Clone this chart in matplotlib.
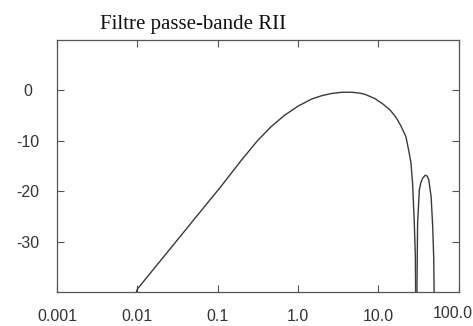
import matplotlib
matplotlib.use("Agg")
import matplotlib.pyplot as plt
import matplotlib.transforms as mtransforms
from matplotlib.ticker import FixedLocator, NullLocator

# frequency (log axis) and gain in dB
freq_main = [0.0095, 0.01, 0.02, 0.0344, 0.05, 0.109, 0.2, 0.315, 0.46, 0.68,
             1.0, 1.47, 2.0, 2.6, 3.5, 4.7, 6.0, 6.9, 9.0, 11.2, 14.0, 16.5,
             19.0, 22.0, 24.2, 25.4, 26.6, 27.9, 28.8, 29.2]
gain_main = [-40.5, -39.4, -33.5, -28.9, -25.7, -19.1, -13.7, -9.9, -7.2, -4.9,
             -3.1, -1.7, -1.0, -0.6, -0.35, -0.35, -0.55, -0.8, -1.6, -2.6, -3.9, -5.3,
             -7.0, -9.2, -12.5, -14.4, -18.5, -26.0, -33.0, -45.0]

freq_lobe = [29.9, 30.7, 32.3, 33.8, 35.5, 38.3, 40.5, 42.2, 45.2, 47.3, 48.7, 49.7]
gain_lobe = [-45.0, -26.3, -19.7, -18.2, -17.4, -16.8, -17.0, -17.7, -21.0, -26.9, -33.0, -45.0]

xticks = [0.001, 0.01, 0.1, 1.0, 10.0, 100.0]
xtick_labels = ["0.001", "0.01", "0.1", "1.0", "10.0", "100.0"]
yticks = [0, -10, -20, -30]
ytick_labels = ["0", "-10", "-20", "-30"]

line_col = "#3a3a3a"

fig = plt.figure(figsize=(4.73, 3.26), dpi=100)
ax = fig.add_axes([0.1205, 0.104, 0.8495, 0.773])

ax.plot(freq_main, gain_main, color=line_col, linewidth=1.0)
ax.plot(freq_lobe, gain_lobe, color=line_col, linewidth=1.0)

ax.set_xscale("log")
ax.set_xlim(0.001, 100.0)
ax.set_ylim(-40, 10)

ax.xaxis.set_major_locator(FixedLocator(xticks))
ax.xaxis.set_minor_locator(NullLocator())
ax.set_xticklabels(xtick_labels)
ax.set_yticks(yticks)
ax.set_yticklabels(ytick_labels)

for s in ax.spines.values():
    s.set_color("#555555")
    s.set_linewidth(0.9)

ax.tick_params(axis="both", direction="in", top=True, right=True,
               length=5, width=0.8, color="#555555",
               labelsize=11.5, labelcolor="#333333")
ax.tick_params(axis="x", pad=12)
ax.tick_params(axis="y", pad=21)
for lab in ax.get_xticklabels() + ax.get_yticklabels():
    lab.set_fontfamily("Liberation Sans")
for lab in ax.get_yticklabels():
    lab.set_horizontalalignment("center")

# last x label sits a bit left and higher in the reference
last = ax.get_xticklabels()[-1]
last.set_transform(last.get_transform() +
                   mtransforms.ScaledTranslation(-6 / 100, 3 / 100, fig.dpi_scale_trans))

fig.text(100 / 473, 1 - 29 / 326, "Filtre passe-bande RII",
         family="Liberation Serif", fontsize=15, color="#111111",
         ha="left", va="baseline")

fig.savefig("out.png", dpi=100)
